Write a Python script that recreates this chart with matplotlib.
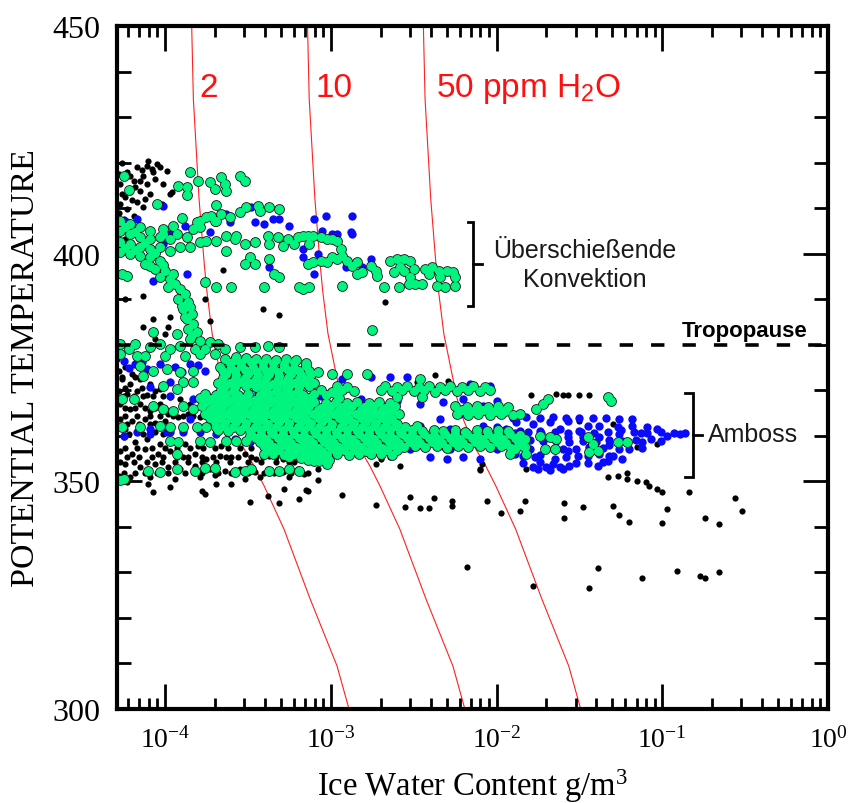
import numpy as np
import matplotlib
matplotlib.use("Agg")
import matplotlib.pyplot as plt
from matplotlib.ticker import MultipleLocator, LogLocator, LogFormatterMathtext, NullFormatter

plt.rcParams.update({
    "font.family": "Liberation Serif",
    "mathtext.fontset": "custom",
    "mathtext.rm": "Liberation Serif",
    "mathtext.it": "Liberation Serif:italic",
    "mathtext.bf": "Liberation Serif:bold",
    "mathtext.sf": "Liberation Sans",
})

# ---------------------------------------------------------------------------
# Observations: (log10 IWC [g/m^3], potential temperature [K])
# ---------------------------------------------------------------------------
black_upper = [
    (-4.23, 418.0), (-4.17, 419.0), (-4.11, 419.3), (-4.05, 419.7), (-4.03, 419.0), (-4.08, 418.6),
    (-4.19, 416.0), (-4.13, 417.1), (-4.07, 418.0), (-4.21, 413.6), (-4.15, 413.8), (-4.17, 411.4),
    (-4.23, 409.8), (-4.19, 408.3), (-4.25, 407.6), (-4.01, 415.3), (-3.96, 413.6), (-4.02, 410.9),
    (-4.27, 410.9), (-4.24, 412.5), (-4.13, 410.3), (-3.97, 413.1), (-4.27, 415.3), (-4.28, 417.6),
    (-4.18, 414.7), (-4.11, 415.3), (-4.24, 403.2), (-4.27, 405.9), (-4.26, 420.0), (-4.10, 420.3),
    (-3.99, 418.2), (-4.15, 416.0), (-4.09, 413.0), (-4.21, 417.0), (-4.14, 418.4), (-4.26, 413.0),
    (-4.20, 411.8), (-4.28, 409.0), (-4.22, 407.0), (-4.12, 412.0), (-4.06, 416.5),
    (-4.24, 390.0), (-4.13, 390.7), (-4.07, 385.6), (-3.97, 386.1), (-3.98, 383.9), (-4.13, 383.9),
    (-3.65, 396.4), (-3.76, 390.0), (-3.73, 385.2), (-3.41, 387.8), (-3.31, 386.5), (-2.67, 389.4),
    (-4.00, 382.4), (-4.06, 381.3),
]

black_core = [
    (-4.28, 374.2), (-4.24, 375.1), (-4.20, 373.6), (-4.26, 372.5), (-4.21, 371.4), (-4.15, 372.5),
    (-4.28, 369.8), (-4.23, 369.2), (-4.17, 369.8), (-4.11, 369.0), (-4.06, 369.8), (-4.27, 367.0),
    (-4.21, 365.9), (-4.15, 367.0), (-4.09, 365.5), (-4.03, 367.0), (-3.98, 364.8), (-3.92, 364.1),
    (-3.86, 364.8), (-3.79, 364.1), (-3.73, 365.2), (-3.67, 364.1), (-3.61, 364.8), (-4.27, 363.7),
    (-4.20, 363.3), (-4.12, 363.7), (-4.06, 362.8), (-4.00, 363.3), (-4.25, 359.7), (-4.18, 358.6),
    (-4.11, 359.3), (-4.03, 358.2), (-3.96, 358.6), (-3.88, 358.2), (-3.80, 357.8), (-3.73, 358.6),
    (-3.66, 357.8), (-4.27, 356.7), (-4.20, 356.0), (-4.12, 357.1), (-4.04, 356.0), (-3.97, 356.7),
    (-3.89, 355.3), (-3.82, 356.0), (-3.75, 354.9), (-3.67, 355.6), (-3.60, 355.3), (-3.52, 356.0),
    (-3.45, 354.9), (-3.37, 355.6), (-3.29, 354.9), (-3.22, 354.3), (-4.24, 353.8), (-4.15, 353.2),
    (-4.06, 353.8), (-3.98, 353.2), (-3.91, 352.7), (-3.82, 353.4), (-3.73, 352.7), (-3.64, 352.3),
    (-3.55, 352.7), (-3.46, 352.1), (-3.38, 352.7), (-3.29, 352.1), (-3.20, 352.7), (-4.28, 351.2),
    (-4.21, 350.9), (-4.09, 350.9), (-3.94, 350.5), (-3.79, 350.9), (-3.70, 351.4), (-3.52, 350.5),
    (-3.43, 350.9), (-3.25, 350.9), (-3.16, 351.6), (-3.08, 352.7), (-4.09, 371.4), (-4.03, 370.3),
    (-3.97, 368.5), (-3.91, 368.1), (-4.24, 361.5), (-4.15, 361.1), (-4.06, 360.8), (-3.85, 367.0),
    (-4.29, 376.9), (-4.15, 375.8),
    (-4.26, 373.0), (-4.18, 373.0), (-4.24, 370.5), (-4.14, 370.5), (-4.02, 370.5),
    (-4.25, 368.8), (-4.19, 368.8), (-4.13, 368.8), (-4.07, 368.8), (-4.01, 368.8),
    (-4.24, 366.2), (-4.18, 366.2), (-4.12, 366.2), (-4.06, 366.2), (-4.00, 366.2),
    (-4.24, 364.4), (-4.17, 364.4), (-4.09, 364.4), (-4.03, 364.4), (-3.95, 364.4), (-3.89, 364.4),
    (-3.83, 364.4), (-3.76, 364.4), (-3.70, 364.4), (-3.64, 364.4),
    (-4.23, 362.5), (-4.16, 362.5), (-4.09, 362.5), (-4.03, 362.5),
    (-4.22, 360.4), (-4.13, 360.4), (-4.01, 360.4),
    (-4.24, 357.4), (-4.17, 357.4), (-4.08, 357.4), (-4.00, 357.4), (-3.93, 357.4), (-3.85, 357.4),
    (-3.77, 357.4), (-3.70, 357.4), (-3.62, 357.4), (-3.55, 357.4), (-3.48, 357.4), (-3.41, 357.4),
    (-4.23, 355.3), (-4.16, 355.3), (-4.08, 355.3), (-4.01, 355.3), (-3.93, 355.3), (-3.86, 355.3),
    (-3.78, 355.3), (-3.71, 355.3), (-3.63, 355.3), (-3.56, 355.3), (-3.48, 355.3), (-3.41, 355.3),
    (-3.33, 355.3), (-3.26, 355.3), (-3.18, 355.3),
    (-4.27, 354.2), (-4.19, 354.2), (-4.11, 354.2), (-4.02, 354.2), (-3.94, 354.2), (-3.86, 354.2),
    (-3.78, 354.2), (-3.69, 354.2), (-3.61, 354.2), (-3.50, 354.2), (-3.42, 354.2), (-3.33, 354.2),
    (-3.25, 354.2),
    (-4.25, 351.9), (-4.18, 351.9), (-4.12, 351.9), (-4.05, 351.9), (-3.98, 351.9), (-3.88, 351.9),
    (-3.78, 351.9), (-3.68, 351.9), (-3.60, 351.9), (-3.50, 351.9), (-3.40, 351.9), (-3.34, 351.9),
    (-3.24, 351.9), (-3.14, 351.9),
]

black_scatter = [
    (-4.10, 349.4), (-4.07, 347.7), (-3.97, 348.8), (-3.78, 347.9), (-3.76, 347.2), (-3.69, 349.4),
    (-3.60, 349.4), (-3.49, 345.5), (-3.38, 346.8), (-3.31, 345.2), (-3.28, 348.3), (-3.19, 346.1),
    (-3.14, 347.9), (-4.23, 349.9), (-2.93, 347.0), (-2.73, 344.8), (-2.52, 346.6), (-2.55, 344.4),
    (-2.46, 344.1), (-3.08, 350.3), (-3.15, 348.1), (-2.41, 344.1), (-2.38, 346.3), (-2.27, 345.7),
    (-2.27, 344.6), (-2.06, 345.7), (-1.97, 343.0), (-1.83, 345.7), (-1.86, 343.5), (-1.59, 345.2),
    (-1.59, 341.9), (-1.48, 344.4), (-1.30, 344.6), (-1.26, 342.6), (-1.20, 341.1), (-0.97, 343.9),
    (-1.00, 340.9), (-0.84, 347.7), (-0.74, 341.9), (-0.66, 340.6), (-0.56, 346.3), (-0.52, 343.5),
    (-2.18, 331.2), (-1.78, 327.0), (-1.39, 331.0), (-1.44, 326.6), (-1.12, 328.8), (-0.91, 330.3),
    (-0.77, 329.2), (-0.74, 328.8), (-0.66, 330.1), (-2.10, 352.5), (-1.33, 350.9), (-1.27, 351.2),
    (-1.21, 351.8), (-1.21, 350.5), (-1.15, 350.1), (-1.10, 349.9), (-1.08, 349.0), (-1.03, 348.3),
    (-1.00, 347.7), (-1.79, 369.0), (-1.64, 369.2), (-1.60, 369.0), (-1.57, 369.0), (-1.50, 369.0),
    (-1.44, 369.0), (-1.50, 363.3), (-1.30, 362.6), (-1.82, 352.7), (-1.15, 357.5), (-1.03, 358.2),
    (-2.37, 373.4), (-2.48, 371.8), (-2.29, 372.0), (-2.64, 355.3), (-2.58, 353.4), (-2.70, 354.9),
    (-2.73, 353.8), (-2.09, 353.8), (-2.10, 352.7),
]

blue_upper = [
    (-4.01, 410.5), (-3.63, 408.7), (-3.61, 407.0), (-3.48, 410.3), (-3.46, 407.0), (-3.40, 406.5),
    (-3.35, 407.6), (-3.31, 407.6), (-3.25, 406.1), (-3.17, 401.0), (-3.73, 404.8), (-3.69, 402.6),
    (-4.01, 402.1), (-3.97, 404.3), (-4.24, 407.2), (-4.17, 407.6), (-3.10, 407.6), (-3.03, 408.3),
    (-2.87, 408.3), (-3.05, 405.0), (-2.99, 404.3), (-2.96, 404.3), (-2.88, 404.8), (-2.87, 404.3),
    (-3.08, 399.9), (-2.91, 397.1), (-2.81, 397.1), (-2.76, 398.8), (-3.88, 406.1), (-4.27, 401.0),
    (-3.87, 395.5), (-4.07, 394.0), (-4.10, 397.3), (-3.37, 397.1), (-3.17, 399.3), (-3.10, 395.5),
]

blue_lower = [
    (-4.25, 376.4), (-4.18, 375.8), (-4.11, 374.7), (-4.03, 375.8), (-3.94, 375.1), (-3.85, 375.8),
    (-3.76, 374.2), (-4.09, 370.7), (-3.97, 371.8), (-3.97, 368.7), (-3.83, 368.1), (-3.75, 369.2),
    (-3.69, 369.2), (-3.58, 369.6), (-3.51, 368.7), (-3.85, 363.7), (-3.73, 363.7), (-3.63, 363.3),
    (-4.09, 361.5), (-3.97, 360.8), (-3.89, 361.5), (-3.40, 363.3), (-3.32, 364.1), (-3.20, 373.1),
    (-3.16, 374.2), (-4.25, 360.0), (-4.17, 360.8), (-4.09, 360.4), (-3.99, 360.8), (-3.89, 360.8),
    (-3.79, 360.8), (-3.69, 360.4), (-3.58, 359.3), (-3.49, 358.6), (-2.99, 373.6), (-2.93, 372.5),
    (-2.76, 372.9), (-2.64, 372.9), (-2.54, 372.9), (-2.16, 371.4), (-2.04, 370.9), (-3.06, 368.7),
    (-2.96, 368.1), (-2.82, 368.1), (-2.72, 366.5), (-2.60, 367.6), (-2.46, 367.0), (-2.32, 367.4),
    (-2.20, 368.1), (-2.08, 366.5), (-2.00, 367.6), (-2.72, 362.6), (-2.64, 361.9), (-2.46, 362.2),
    (-2.08, 362.2), (-2.00, 361.9), (-1.94, 360.8), (-2.62, 357.5), (-2.52, 357.1), (-2.48, 357.8),
    (-2.32, 357.8), (-2.28, 357.1), (-2.00, 357.1), (-2.34, 363.7), (-2.22, 364.8), (-2.16, 360.0),
    (-2.40, 359.3), (-2.28, 361.5), (-2.40, 355.3), (-2.30, 355.0), (-2.20, 355.4), (-2.10, 355.0),
    (-4.22, 375.0), (-4.14, 376.2), (-3.90, 374.0), (-3.80, 375.5), (-3.62, 368.4), (-3.44, 369.3),
]

blue_anvil = [
    (-1.94, 361.5), (-1.88, 363.0), (-1.78, 362.6), (-1.68, 363.0), (-1.57, 363.3), (-1.45, 362.2),
    (-1.38, 362.2), (-1.27, 361.9), (-1.18, 362.2), (-1.09, 361.9), (-1.03, 361.5), (-0.97, 360.0),
    (-0.89, 360.4), (-1.92, 357.8), (-1.80, 357.1), (-1.70, 357.1), (-1.57, 356.7), (-1.51, 355.6),
    (-1.32, 355.6), (-1.24, 354.9), (-1.78, 353.2), (-1.70, 353.2), (-1.62, 353.2), (-1.56, 353.4),
    (-1.39, 353.4), (-1.33, 354.5), (-1.07, 359.3), (-1.01, 358.9), (-1.21, 358.6), (-1.12, 358.6),
    (-1.38, 359.7), (-1.48, 359.7), (-1.57, 359.7), (-1.68, 359.7), (-1.82, 359.7), (-1.86, 361.1),
    (-1.74, 361.1), (-1.62, 361.5), (-1.50, 361.1), (-1.26, 360.4), (-1.13, 360.6), (-1.44, 357.5),
    (-1.32, 358.0), (-1.77, 355.3), (-1.65, 354.9), (-1.89, 356.0), (-1.26, 357.1), (-1.38, 356.0),
    (-1.90, 364.0), (-1.82, 364.2), (-1.74, 363.9), (-1.66, 364.1), (-1.58, 364.0), (-1.50, 363.8),
    (-1.42, 363.9), (-1.34, 364.0), (-1.26, 363.6), (-1.18, 363.7),
    (-1.97, 360.8), (-1.89, 360.6), (-1.81, 360.9), (-1.73, 360.7), (-1.65, 360.8), (-1.57, 360.6),
    (-1.49, 360.9), (-1.41, 360.7), (-1.33, 360.8), (-1.25, 361.2), (-1.17, 360.9), (-1.09, 360.7),
    (-1.01, 360.8), (-0.93, 360.6), (-0.86, 360.6),
    (-1.96, 358.9), (-1.88, 358.7), (-1.80, 359.0), (-1.72, 358.8), (-1.64, 358.9), (-1.56, 358.6),
    (-1.48, 358.9), (-1.40, 358.7), (-1.32, 359.0), (-1.24, 358.8), (-1.16, 359.0),
    (-1.60, 357.2), (-1.52, 357.0), (-1.36, 357.3), (-1.20, 357.0), (-1.12, 357.4),
    (-1.84, 355.5), (-1.74, 355.7), (-1.58, 355.4), (-1.45, 355.6), (-1.30, 355.5),
    (-1.84, 354.0), (-1.74, 354.2), (-1.66, 353.9), (-1.52, 354.1), (-1.45, 354.0), (-1.36, 354.2),
    (-1.75, 352.6), (-1.68, 352.4), (-1.60, 352.6),
]

green_upper = [
    (-4.25, 417.1), (-4.22, 414.0), (-3.85, 418.0), (-3.80, 416.0), (-3.92, 414.9), (-3.87, 414.7),
    (-3.87, 412.9), (-3.73, 415.8), (-3.70, 414.2), (-3.66, 416.8), (-3.64, 415.3), (-3.63, 413.8),
    (-3.55, 417.1), (-3.52, 416.0), (-4.05, 410.9), (-3.69, 410.7), (-3.90, 407.8), (-3.51, 410.3),
    (-3.44, 410.5), (-3.37, 410.3), (-3.31, 409.8), (-3.43, 409.4), (-3.55, 409.2), (-3.61, 408.1),
    (-3.66, 408.7), (-3.81, 407.0), (-3.75, 408.1), (-3.70, 407.2), (-3.79, 405.9), (-4.01, 405.4),
    (-3.95, 406.1), (-3.63, 403.9), (-3.57, 403.9), (-3.93, 404.3), (-3.87, 403.7), (-3.83, 405.4),
    (-3.79, 407.2), (-3.72, 408.3), (-3.69, 407.2), (-3.58, 403.2), (-3.69, 402.8), (-3.75, 402.8),
    (-3.79, 402.6), (-3.85, 401.5), (-3.91, 401.5), (-3.97, 403.2), (-4.01, 404.3),
    (-3.52, 402.1), (-3.46, 402.6), (-3.38, 403.9), (-3.32, 403.7), (-3.26, 403.2), (-3.20, 403.7),
    (-3.14, 403.9), (-3.37, 402.1), (-3.29, 401.7), (-3.22, 402.1), (-3.13, 402.1), (-3.17, 403.9),
    (-3.11, 403.9), (-3.06, 403.7), (-3.02, 403.2), (-2.99, 403.2), (-2.96, 402.8), (-2.94, 401.0),
    (-2.93, 399.5), (-2.96, 398.8), (-2.99, 399.3), (-3.02, 398.2), (-3.06, 398.4), (-3.11, 398.2),
    (-3.14, 397.7), (-2.90, 398.4), (-2.87, 397.3), (-2.84, 398.2), (-2.81, 396.0), (-2.84, 395.5),
    (-2.76, 397.3), (-2.73, 396.2), (-2.72, 395.1), (-2.64, 398.4), (-2.60, 398.8), (-2.56, 398.8),
    (-2.52, 398.4), (-2.50, 396.6), (-2.62, 396.0), (-2.58, 397.1), (-2.56, 396.2), (-2.43, 396.6),
    (-2.39, 397.1), (-2.35, 396.2), (-2.30, 396.2), (-2.26, 396.0), (-2.25, 394.9), (-2.34, 394.9),
    (-2.41, 395.5), (-2.52, 394.9), (-2.49, 393.3), (-2.45, 393.3), (-2.53, 393.3), (-2.59, 392.7),
    (-2.68, 392.7), (-2.93, 392.9), (-3.13, 392.7), (-3.17, 392.2), (-2.36, 392.9), (-2.31, 392.7),
    (-2.25, 392.9), (-2.75, 383.2), (-3.69, 392.7), (-3.60, 392.7), (-3.40, 392.7), (-3.19, 392.7),
    (-3.52, 397.7), (-3.46, 397.7), (-3.37, 398.8), (-3.31, 394.9), (-3.34, 395.5), (-3.49, 399.3),
    (-3.63, 400.6), (-4.07, 382.8), (-3.93, 382.4), (-4.26, 395.5), (-4.23, 395.1),
]

green_stem = [
    (-4.27, 407.2), (-4.21, 406.5), (-4.15, 405.9), (-4.09, 405.0), (-4.27, 405.0), (-4.21, 404.3),
    (-4.15, 403.7), (-4.09, 403.2), (-4.03, 403.7), (-4.27, 402.6), (-4.21, 402.1), (-4.15, 401.5),
    (-4.09, 401.0), (-4.27, 400.4), (-4.21, 399.9), (-4.15, 399.5), (-4.09, 399.3), (-4.03, 398.4),
    (-4.12, 397.7), (-4.06, 396.6), (-4.00, 396.2), (-4.03, 394.9), (-3.97, 394.4), (-3.94, 393.3),
    (-3.98, 392.7), (-3.91, 392.2), (-3.88, 391.1), (-3.92, 390.0), (-3.86, 389.4), (-3.89, 387.8),
    (-3.84, 386.8), (-3.87, 385.6), (-3.83, 384.6), (-3.86, 383.5), (-3.81, 382.8), (-3.85, 381.3),
    (-3.79, 380.8), (-3.73, 380.6), (-3.68, 380.2), (-3.76, 379.1), (-3.82, 379.1), (-3.76, 393.8),
    (-3.97, 400.6), (-4.03, 401.5), (-4.24, 405.8), (-4.18, 404.8), (-4.12, 402.4), (-4.24, 401.3),
    (-4.18, 400.7), (-4.06, 400.1), (-4.09, 397.4), (-4.01, 397.5), (-3.95, 395.5), (-3.90, 388.6),
    (-3.85, 388.2), (-3.88, 386.0), (-3.84, 382.1),
]

green_tropo = [
    (-4.27, 380.2), (-4.22, 379.1), (-4.18, 380.2), (-4.27, 378.0), (-4.09, 379.5), (-4.03, 380.2),
    (-3.97, 379.1), (-3.91, 379.7), (-4.00, 377.5), (-4.12, 377.5), (-3.88, 377.5), (-3.79, 378.0),
    (-3.70, 378.0), (-3.64, 379.1), (-3.55, 379.5), (-3.46, 379.5), (-3.38, 379.7), (-3.31, 379.5),
    (-3.57, 377.3),
    (-4.17, 377.5), (-4.15, 375.3), (-4.13, 373.1), (-4.07, 374.2), (-3.99, 374.7), (-3.91, 374.0),
    (-3.83, 374.2), (-3.89, 371.8), (-3.83, 371.8), (-4.01, 370.9), (-3.93, 370.3), (-4.07, 366.5),
    (-4.01, 365.9), (-3.95, 365.5), (-3.89, 366.5), (-3.83, 365.9), (-4.26, 368.1), (-4.19, 368.1),
    (-4.26, 361.9), (-4.15, 361.9), (-4.03, 362.2), (-3.97, 361.9), (-3.89, 361.9), (-3.81, 361.9),
    (-3.75, 361.9), (-3.69, 361.9),
    (-3.97, 358.9), (-3.92, 358.6), (-3.79, 358.9), (-3.73, 358.6), (-3.63, 358.9), (-3.57, 358.9),
    (-3.51, 358.9), (-3.93, 356.0), (-4.10, 352.3), (-4.03, 352.1), (-3.93, 352.7), (-3.82, 352.3),
    (-3.76, 352.9), (-3.70, 352.9), (-3.58, 352.1), (-3.52, 352.3), (-3.48, 352.7), (-3.40, 356.0),
    (-3.37, 352.3), (-3.31, 352.3), (-3.25, 352.7), (-3.19, 352.3), (-4.25, 350.5), (-3.49, 360.0),
    (-4.27, 350.3),
]

green_core = [
    (-3.64, 376.9), (-3.58, 376.7), (-3.51, 377.0), (-3.45, 376.8), (-3.39, 376.9), (-3.33, 376.6),
    (-3.27, 376.9), (-3.21, 376.7),
    (-3.61, 376.0), (-3.54, 375.9), (-3.48, 376.1), (-3.41, 375.9), (-3.35, 376.0), (-3.28, 375.8),
    (-3.22, 376.1), (-3.15, 375.9),
    (-3.67, 375.2), (-3.60, 375.0), (-3.54, 375.3), (-3.47, 375.1), (-3.41, 375.2), (-3.35, 374.9),
    (-3.28, 375.2), (-3.22, 375.0), (-3.15, 375.3),
    (-3.65, 374.3), (-3.58, 374.2), (-3.52, 374.4), (-3.45, 374.2), (-3.39, 374.3), (-3.32, 374.1),
    (-3.26, 374.4), (-3.19, 374.2), (-3.13, 374.3),
    (-3.63, 373.5), (-3.57, 373.3), (-3.50, 373.6), (-3.44, 373.4), (-3.37, 373.5), (-3.31, 373.2),
    (-3.24, 373.5), (-3.18, 373.3), (-3.12, 373.6), (-3.08, 374.0), (-2.99, 373.5), (-2.90, 373.6),
    (-2.78, 373.6),
    (-3.65, 372.6), (-3.58, 372.5), (-3.52, 372.7), (-3.45, 372.5), (-3.39, 372.6), (-3.32, 372.4),
    (-3.26, 372.7), (-3.19, 372.5), (-3.13, 372.6),
    (-3.68, 371.7), (-3.61, 371.5), (-3.55, 371.8), (-3.48, 371.6), (-3.42, 371.7), (-3.35, 371.4),
    (-3.29, 371.7), (-3.22, 371.5), (-3.16, 371.8), (-3.10, 371.6), (-2.46, 372.5),
    (-3.64, 370.9), (-3.58, 370.8), (-3.51, 371.0), (-3.45, 370.8), (-3.38, 370.9), (-3.32, 370.7),
    (-3.25, 371.0), (-3.19, 370.8), (-3.13, 370.9), (-2.96, 370.9), (-2.90, 370.7), (-2.67, 370.9),
    (-2.60, 370.8), (-2.54, 371.0), (-2.47, 370.8), (-2.41, 370.9), (-2.34, 370.7), (-2.28, 371.0),
    (-2.21, 370.8), (-2.14, 370.9), (-2.07, 370.8),
    (-3.66, 370.0), (-3.59, 369.8), (-3.40, 370.1), (-3.33, 369.9), (-3.27, 370.0), (-3.20, 369.8),
    (-3.06, 370.0), (-2.99, 369.7), (-2.93, 370.1), (-2.86, 369.9), (-2.70, 370.0), (-2.63, 369.8),
    (-2.57, 370.1), (-2.50, 369.9), (-2.44, 370.0), (-2.37, 369.7), (-2.31, 370.1), (-2.24, 369.9),
    (-2.17, 370.0), (-2.10, 369.8), (-2.04, 370.1),
    (-3.76, 369.1), (-3.69, 369.0), (-3.63, 369.2), (-3.56, 369.0), (-3.50, 369.1), (-3.43, 368.9),
    (-3.37, 369.2), (-3.30, 369.0), (-3.24, 369.1), (-3.17, 368.9), (-3.10, 369.2), (-3.03, 369.0),
    (-2.97, 369.1),
    (-3.79, 368.2), (-3.72, 368.0), (-3.66, 368.3), (-3.59, 368.1), (-3.52, 368.2), (-3.46, 367.9),
    (-3.39, 368.2), (-3.33, 368.0), (-3.26, 368.3), (-3.20, 368.1), (-3.13, 368.2), (-2.95, 368.4),
    (-2.60, 368.6), (-2.45, 368.5),
    (-3.75, 367.4), (-3.68, 367.3), (-3.62, 367.5), (-3.55, 367.3), (-3.49, 367.4), (-3.42, 367.2),
    (-3.36, 367.5), (-3.29, 367.3), (-3.23, 367.4), (-3.16, 367.2), (-3.10, 367.5), (-3.03, 367.3),
    (-2.97, 367.4), (-2.90, 367.2), (-2.84, 367.5), (-2.77, 367.3), (-2.71, 367.4), (-2.64, 367.2),
    (-3.78, 366.5), (-3.71, 366.3), (-3.65, 366.6), (-3.58, 366.4), (-3.52, 366.5), (-3.45, 366.2),
    (-3.39, 366.5), (-3.32, 366.3), (-3.26, 366.6), (-3.19, 366.4), (-3.13, 366.5), (-3.06, 366.2),
    (-3.00, 366.5), (-2.93, 366.3), (-2.87, 366.6), (-2.80, 366.4), (-2.74, 366.5), (-2.67, 366.2),
    (-2.61, 366.5), (-2.25, 366.6), (-2.18, 366.3), (-2.12, 366.5), (-2.05, 366.4), (-1.99, 366.6),
    (-1.93, 366.3),
    (-3.73, 365.6), (-3.67, 365.5), (-3.60, 365.7), (-3.54, 365.5), (-3.47, 365.6), (-3.41, 365.4),
    (-3.34, 365.7), (-3.28, 365.5), (-3.21, 365.6), (-3.15, 365.4), (-3.08, 365.7), (-3.02, 365.5),
    (-2.95, 365.6), (-2.89, 365.4), (-2.82, 365.7), (-2.76, 365.5), (-2.69, 365.6), (-2.63, 365.4),
    (-2.21, 365.6), (-2.14, 365.5), (-2.08, 365.7), (-2.01, 365.5), (-1.95, 365.6),
    (-3.76, 364.7), (-3.70, 364.5), (-3.63, 364.8), (-3.57, 364.6), (-3.50, 364.7), (-3.44, 364.4),
    (-3.37, 364.7), (-3.31, 364.5), (-3.24, 364.8), (-3.18, 364.6), (-3.11, 364.7), (-3.05, 364.4),
    (-2.98, 364.7), (-2.92, 364.5), (-2.85, 364.8), (-2.79, 364.6), (-2.72, 364.7), (-2.66, 364.4),
    (-2.59, 364.7), (-2.24, 364.8), (-2.17, 364.5), (-2.11, 364.7), (-2.04, 364.6), (-1.97, 364.8),
    (-3.73, 363.9), (-3.67, 363.8), (-3.60, 364.0), (-3.54, 363.8), (-3.47, 363.9), (-3.41, 363.7),
    (-3.34, 364.0), (-3.28, 363.8), (-3.21, 363.9), (-3.15, 363.7), (-3.08, 364.0), (-3.02, 363.8),
    (-2.95, 363.9), (-2.89, 363.7), (-2.82, 364.0), (-2.76, 363.8), (-2.69, 363.9), (-2.63, 363.7),
    (-3.70, 363.0), (-3.64, 362.8), (-3.57, 363.1), (-3.51, 362.9), (-3.44, 363.0), (-3.38, 362.7),
    (-3.31, 363.0), (-3.25, 362.8), (-3.18, 363.1), (-3.12, 362.9), (-3.05, 363.0), (-2.99, 362.7),
    (-2.92, 363.0), (-2.86, 362.8), (-2.79, 363.1), (-2.73, 362.9), (-2.66, 363.0), (-2.60, 362.7),
    (-3.65, 362.1), (-3.59, 362.0), (-3.52, 362.2), (-3.46, 362.0), (-3.39, 362.1), (-3.33, 361.9),
    (-3.26, 362.2), (-3.20, 362.0), (-3.13, 362.1), (-3.07, 361.9), (-3.00, 362.2), (-2.94, 362.0),
    (-2.87, 362.1), (-2.81, 361.9), (-2.74, 362.2), (-2.68, 362.0), (-2.61, 362.1), (-2.55, 361.9),
    (-2.48, 362.1),
    (-3.68, 361.2), (-3.62, 361.0), (-3.55, 361.3), (-3.49, 361.1), (-3.42, 361.2), (-3.36, 360.9),
    (-3.29, 361.2), (-3.23, 361.0), (-3.16, 361.3), (-3.10, 361.1), (-3.03, 361.2), (-2.97, 360.9),
    (-2.90, 361.2), (-2.84, 361.0), (-2.77, 361.3), (-2.71, 361.1), (-2.64, 361.2), (-2.58, 360.9),
    (-2.51, 361.2), (-2.45, 361.0), (-2.38, 361.3), (-2.32, 361.1), (-2.25, 361.2), (-2.19, 360.9),
    (-2.12, 361.2), (-2.06, 361.0), (-1.99, 361.3), (-1.93, 361.1),
    (-3.48, 360.4), (-3.42, 360.3), (-3.35, 360.5), (-3.29, 360.3), (-3.22, 360.4), (-3.16, 360.2),
    (-3.09, 360.5), (-3.03, 360.3), (-2.96, 360.4), (-2.90, 360.2), (-2.83, 360.5), (-2.77, 360.3),
    (-2.70, 360.4), (-2.64, 360.2), (-2.57, 360.5), (-2.51, 360.3), (-2.44, 360.4), (-2.38, 360.2),
    (-2.31, 360.5), (-2.25, 360.3), (-2.18, 360.4), (-2.12, 360.2), (-2.05, 360.5), (-1.99, 360.3),
    (-1.92, 360.4), (-1.86, 360.2),
    (-3.45, 359.5), (-3.39, 359.3), (-3.32, 359.6), (-3.26, 359.4), (-3.19, 359.5), (-3.13, 359.2),
    (-3.06, 359.5), (-3.00, 359.3), (-2.93, 359.6), (-2.87, 359.4), (-2.80, 359.5), (-2.74, 359.2),
    (-2.67, 359.5), (-2.61, 359.3), (-2.54, 359.6), (-2.48, 359.4), (-2.41, 359.5), (-2.35, 359.2),
    (-2.28, 359.5), (-2.22, 359.3), (-2.15, 359.6), (-2.09, 359.4), (-2.02, 359.5), (-1.96, 359.2),
    (-1.89, 359.5), (-1.83, 359.3),
    (-3.43, 358.6), (-3.37, 358.5), (-3.30, 358.7), (-3.24, 358.5), (-3.17, 358.6), (-3.11, 358.4),
    (-3.04, 358.7), (-2.98, 358.5), (-2.91, 358.6), (-2.85, 358.4), (-2.78, 358.7), (-2.72, 358.5),
    (-2.65, 358.6), (-2.59, 358.4), (-2.52, 358.7), (-2.46, 358.5), (-2.39, 358.6), (-2.33, 358.4),
    (-2.26, 358.7), (-2.20, 358.5), (-2.13, 358.6), (-2.07, 358.4), (-2.00, 358.7), (-1.94, 358.5),
    (-1.87, 358.6),
    (-3.40, 357.7), (-3.34, 357.5), (-3.27, 357.8), (-3.21, 357.6), (-3.14, 357.7), (-3.08, 357.4),
    (-3.01, 357.7), (-2.95, 357.5), (-2.88, 357.8), (-2.82, 357.6), (-2.75, 357.7), (-2.69, 357.4),
    (-2.62, 357.7), (-2.56, 357.5), (-2.49, 357.8), (-2.43, 357.6), (-2.36, 357.7), (-2.30, 357.4),
    (-2.23, 357.7), (-2.17, 357.5), (-2.10, 357.8), (-2.04, 357.6), (-1.97, 357.7), (-1.91, 357.4),
    (-1.84, 357.7),
    (-3.38, 356.9), (-3.31, 356.8), (-3.25, 357.0), (-3.18, 356.8), (-3.12, 356.9), (-3.05, 356.7),
    (-2.99, 357.0), (-2.92, 356.8), (-2.86, 356.9), (-2.79, 356.7), (-2.73, 357.0), (-2.66, 356.8),
    (-2.60, 356.9),
    (-3.35, 356.0), (-3.28, 355.8), (-3.22, 356.1), (-3.15, 355.9), (-3.09, 356.0), (-3.02, 355.7),
    (-2.96, 356.0), (-2.89, 355.8), (-2.83, 356.1), (-2.76, 355.9), (-2.70, 356.0), (-2.63, 355.7),
    (-3.25, 355.3), (-3.18, 355.2), (-3.12, 355.4), (-3.05, 355.2),
    (-3.14, 354.6), (-3.07, 354.4), (-3.01, 354.7), (-3.10, 354.5), (-3.02, 353.8),
]

green_anvil = [
    (-1.95, 365.5), (-1.90, 364.6), (-1.86, 364.8), (-1.76, 365.9), (-1.72, 367.0), (-1.69, 368.1),
    (-1.33, 368.5), (-1.31, 367.6), (-1.74, 360.0), (-1.68, 359.7), (-1.64, 359.3), (-1.71, 357.1),
    (-1.65, 357.1), (-1.45, 359.7), (-1.42, 358.2), (-1.44, 356.4), (-1.39, 356.7), (-1.27, 358.6),
    (-1.21, 358.6), (-1.95, 358.2), (-1.89, 357.1), (-1.83, 357.5), (-1.92, 356.0), (-1.82, 356.0),
]

# Ice water content of 1 ppmv H2O along the mean potential-temperature profile
theta_profile = [300.0, 309.4, 324.2, 339.5, 349.0, 353.4, 357.1, 363.3, 368.5,
                 382.4, 391.6, 398.4, 412.0, 434.0, 450.0]
iwc_per_ppmv = [6.44e-4, 5.46e-4, 3.75e-4, 2.61e-4, 1.98e-4, 1.72e-4, 1.50e-4, 1.27e-4, 1.15e-4,
                9.62e-5, 8.95e-5, 8.59e-5, 8.02e-5, 7.41e-5, 7.24e-5]
mixing_ratios = [2, 10, 50]
mixing_labels = ["2", "10", "50 ppm H$_\\mathsf{2}$O"]
label_lg_x = [-3.795, -3.095, -2.365]

tropopause_theta = 380.0

XLIM = (5.13e-5, 1.0)
YLIM = (300, 450)


def unpack(*groups):
    arr = np.array([p for g in groups for p in g])
    return 10.0 ** arr[:, 0], arr[:, 1]


fig = plt.figure(figsize=(8.51, 8.04), dpi=100)
ax = fig.add_axes([117 / 851, 1 - 710 / 804, (828 - 117) / 851, (710 - 27) / 804])
ax.set_xscale("log")
ax.set_xlim(*XLIM)
ax.set_ylim(*YLIM)

# reference lines of constant H2O mixing ratio
iwc_ref = np.array(iwc_per_ppmv)
for ppm in mixing_ratios:
    ax.plot(iwc_ref * ppm, theta_profile, color="#ff2020", lw=0.8, zorder=1.5)

bx, by = unpack(black_upper, black_core, black_scatter)
ax.scatter(bx, by, s=20, color="black", linewidths=0, zorder=2)

ux, uy = unpack(blue_upper, blue_lower, blue_anvil)
ax.scatter(ux, uy, s=36, color="#0a0aff", linewidths=0, zorder=3)

# green points: dark halo underneath so only the outer rim shows
gx, gy = unpack(green_upper, green_stem, green_tropo, green_core, green_anvil)
ax.scatter(gx, gy, s=60, color="#1c1c1c", linewidths=0, zorder=4)
ax.scatter(gx, gy, s=42, color="#00f57f", linewidths=0, zorder=5)

ax.axhline(tropopause_theta, color="black", lw=2.6, dashes=(3.7, 5.0), zorder=6)

for xlg, txt in zip(label_lg_x, mixing_labels):
    ax.text(10 ** xlg, 434.6, txt, color="#ff1010", fontsize=24, family="Liberation Sans",
            ha="left", va="baseline", zorder=7)

ax.text(10 ** -0.124, 381.9, "Tropopause", fontsize=16, fontweight="bold",
        family="Liberation Sans", ha="right", va="baseline", zorder=7)


def bracket(x_end, x_vert, x_mid, y_top, y_bot):
    ax.plot([10 ** x_end, 10 ** x_vert, 10 ** x_vert, 10 ** x_end],
            [y_top, y_top, y_bot, y_bot], color="black", lw=2.0, zorder=7,
            solid_joinstyle="miter")
    ym = 0.5 * (y_top + y_bot)
    ax.plot([10 ** x_vert, 10 ** x_mid], [ym, ym], color="black", lw=2.0, zorder=7)


bracket(-2.17, -2.14, -2.085, 407.0, 388.5)
bracket(-0.863, -0.815, -0.76, 369.4, 351.0)

ax.text(10 ** -1.466, 399.3, "Überschießende", fontsize=18, family="Liberation Sans",
        color="#1a1a1a", ha="center", va="baseline", zorder=7)
ax.text(10 ** -1.466, 392.9, "Konvektion", fontsize=18, family="Liberation Sans",
        color="#1a1a1a", ha="center", va="baseline", zorder=7)
ax.text(10 ** -0.724, 360.5, "Amboss", fontsize=18, family="Liberation Sans",
        color="#1a1a1a", ha="left", va="center", zorder=7)

for sp in ax.spines.values():
    sp.set_linewidth(3.0)
    sp.set_zorder(8)

ax.xaxis.set_major_locator(LogLocator(base=10))
ax.xaxis.set_minor_locator(LogLocator(base=10, subs=np.arange(2, 10)))
ax.xaxis.set_major_formatter(LogFormatterMathtext())
ax.xaxis.set_minor_formatter(NullFormatter())
ax.yaxis.set_major_locator(MultipleLocator(50))
ax.yaxis.set_minor_locator(MultipleLocator(10))

ax.tick_params(which="both", direction="in", top=True, right=True, width=2.0, color="black")
ax.tick_params(axis="x", which="major", length=18, labelsize=20, pad=12)
ax.tick_params(axis="x", which="minor", length=8)
ax.tick_params(axis="y", which="major", length=18, labelsize=23, pad=12)
ax.tick_params(axis="y", which="minor", length=10)

ax.set_xlabel("Ice Water Content g/m$^3$", fontsize=23.5, labelpad=10)
ax.set_ylabel("POTENTIAL TEMPERATURE", fontsize=24.5, labelpad=8)

fig.savefig("out.png", dpi=100)
